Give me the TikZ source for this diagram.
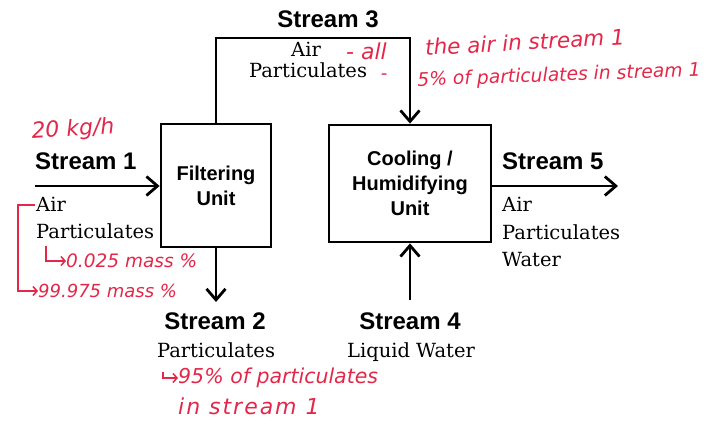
\documentclass[tikz,border=0pt]{standalone}
\usepackage{fontspec}
\setmainfont{DejaVu Serif}
\newfontfamily\hdfont{Liberation Sans}
\newfontfamily\hwfont{DejaVu Sans}
\newfontfamily\hwwide{DejaVu Sans}[LetterSpace=9]
\usetikzlibrary{arrows.meta}
\definecolor{pen}{RGB}{228,38,72}
\tikzset{
  unitbox/.style={draw, line width=2.8pt, align=center, inner sep=0pt,
    font=\hdfont\bfseries\fontsize{20}{25}\selectfont},
  flow/.style={line width=2.8pt, -{Straight Barb[length=11pt,width=19pt]}},
  slabel/.style={font=\hdfont\bfseries\fontsize{24}{28}\selectfont, inner sep=0pt},
  comp/.style={font=\fontsize{19.5}{27}\selectfont, inner sep=0pt},
  hand/.style={text=pen, font=\hwfont\itshape, inner sep=0pt},
  penline/.style={draw=pen, line width=1.5pt},
  penarrow/.style={penline, -{Straight Barb[length=4pt,width=9pt]}}
}
\begin{document}
\begin{tikzpicture}[x=1pt,y=-1pt]
\useasboundingbox (0,0) rectangle (720,427);

% unit boxes
\node[unitbox, minimum width=110pt, minimum height=123pt] (filt) at (216,185.5) {Filtering\\Unit};
\node[unitbox, minimum width=162pt, minimum height=117pt] (cool) at (410,183.5) {Cooling /\\Humidifying\\Unit};

% free ends
\coordinate (s1in) at (35,186);
\coordinate (s2end) at (216,302);
\coordinate (s3top) at (216,38);
\coordinate (s4start) at (410,300);
\coordinate (s5end) at (618,186);

% streams
\draw[flow] (s1in) -- (s1in -| filt.west);
\draw[flow] (filt.south) -- (s2end);
\draw[flow] (filt.north) -- (s3top) -| (cool.north);
\draw[flow] (s4start) -- (cool.south);
\draw[flow] (s5end -| cool.east) -- (s5end);

% stream labels
\node[slabel, anchor=base west] (l1) at (35,170) {Stream 1};
\node[slabel, anchor=base] (l2) at (215,330) {Stream 2};
\node[slabel, anchor=base] (l3) at (328,28) {Stream 3};
\node[slabel, anchor=base] (l4) at (410,330) {Stream 4};
\node[slabel, anchor=base west] (l5) at (502,170) {Stream 5};

% components
\node[comp, anchor=base west] (c1a) at (36,212) {Air};
\node[comp, anchor=base west] (c1b) at (36,239) {Particulates};
\node[comp, anchor=base] (c2a) at (216,358) {Particulates};
\node[comp, anchor=base] (c3a) at (306,57) {Air};
\node[comp, anchor=base] (c3b) at (308,78) {Particulates};
\node[comp, anchor=base] (c4a) at (411,358) {Liquid Water};
\node[comp, anchor=base west] (c5a) at (502,212) {Air};
\node[comp, anchor=base west] (c5b) at (502,240) {Particulates};
\node[comp, anchor=base west] (c5c) at (502,267) {Water};

% handwritten annotations
\node[hand, font=\hwfont\itshape\fontsize{22}{24}\selectfont, rotate=4] (h0) at (73,130) {20 kg/h};
\node[hand, font=\hwfont\itshape\fontsize{22}{24}\selectfont, anchor=west] (h3a) at (346,51) {- all};
\node[hand, font=\hwfont\itshape\fontsize{21.5}{24}\selectfont, rotate=3] (h3b) at (525,42) {the air in stream 1};
\node[hand, font=\hwfont\itshape\fontsize{18}{24}\selectfont] (h3c) at (384,77) {-};
\node[hand, font=\hwfont\itshape\fontsize{18.7}{24}\selectfont, rotate=2] (h3d) at (559,76) {5\% of particulates in stream 1};
\node[hand, font=\hwfont\itshape\fontsize{18.5}{24}\selectfont, anchor=west] (h1) at (66,261) {0.025 mass \%};
\node[hand, font=\hwfont\itshape\fontsize{18}{24}\selectfont, anchor=west] (h2) at (38,291) {99.975 mass \%};
\node[hand, font=\hwfont\itshape\fontsize{20.5}{24}\selectfont, anchor=west] (h4) at (178,378) {95\% of particulates};
\node[hand, font=\hwwide\itshape\fontsize{22}{24}\selectfont, anchor=west] (h5) at (178,406) {in stream 1};

\coordinate (hk1) at (46,246);
\coordinate (hk2) at (163,372);
\draw[penarrow] (hk1) |- (h1.west);
\draw[penarrow] (hk2) |- (h4.west);
\draw[penarrow] (c1a.west) ++(-1,0) -- ++(-17,0) |- (h2.west);
\end{tikzpicture}
\end{document}
